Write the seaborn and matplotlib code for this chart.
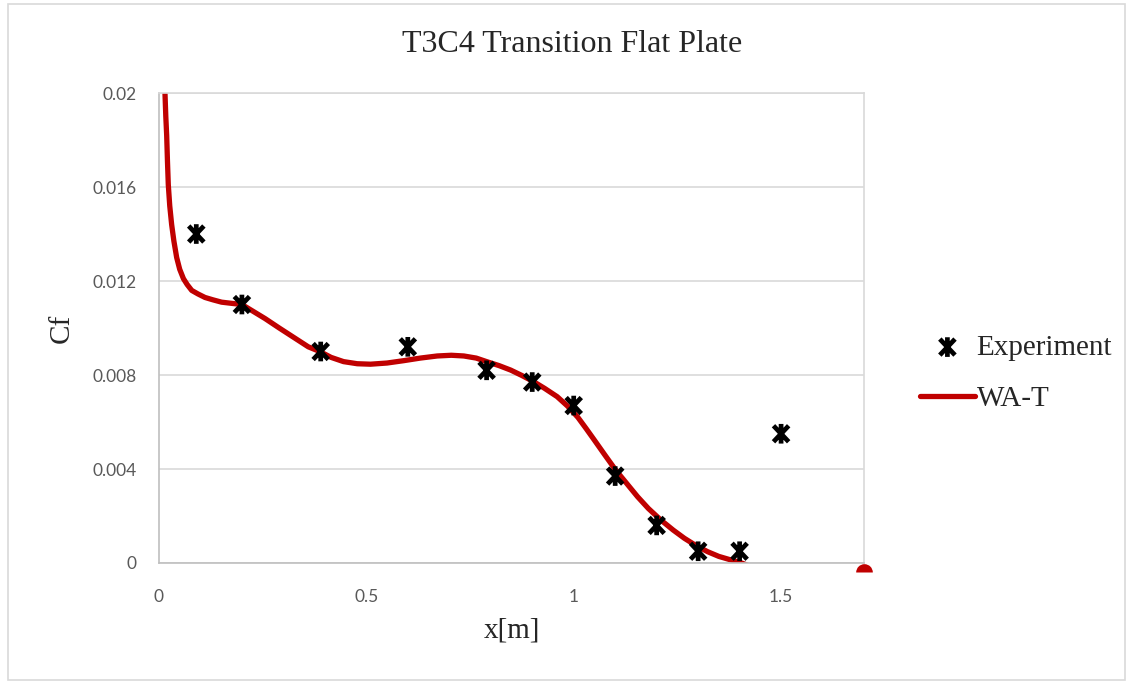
import numpy as np
import pandas as pd
import seaborn as sns
import matplotlib.pyplot as plt
from matplotlib.path import Path
from matplotlib.patches import Rectangle

# experiment points
exp_x = [0.09, 0.2, 0.39, 0.6, 0.79, 0.9, 1.0, 1.1, 1.2, 1.3, 1.4, 1.5]
exp_cf = [0.0140, 0.0110, 0.0090, 0.0092, 0.0082, 0.0077, 0.0067, 0.0037, 0.0016, 0.0005, 0.0005, 0.0055]

# WA-T model curve
wat_x = [0.013, 0.0145, 0.0165, 0.0186, 0.0205, 0.0225, 0.026, 0.0306, 0.036, 0.0427, 0.05, 0.059,
         0.068, 0.079, 0.094, 0.111, 0.13, 0.151, 0.175, 0.2, 0.228, 0.256, 0.29, 0.325, 0.36,
         0.389, 0.415, 0.445, 0.478, 0.51, 0.55, 0.59, 0.63, 0.671, 0.705, 0.735, 0.765, 0.79,
         0.82, 0.848, 0.875, 0.904, 0.93, 0.96, 0.985, 1.01, 1.03, 1.049, 1.075, 1.101, 1.128,
         1.154, 1.18, 1.21, 1.24, 1.267, 1.295, 1.323, 1.35, 1.379, 1.405, 1.428, 1.45]
wat_cf = [0.0215, 0.0200, 0.0190, 0.0182, 0.0171, 0.0161, 0.0152, 0.0144, 0.0137, 0.0130, 0.0125, 0.0121,
          0.01185, 0.0116, 0.01145, 0.0113, 0.0112, 0.0111, 0.01105, 0.0110, 0.0107, 0.0104, 0.0100, 0.0096, 0.0092,
          0.00899, 0.00875, 0.00857, 0.00848, 0.00846, 0.00851, 0.00861, 0.00872, 0.00881, 0.00884, 0.00881, 0.00872, 0.00857,
          0.0084, 0.00821, 0.00798, 0.00771, 0.00743, 0.00708, 0.00668, 0.0062, 0.00572, 0.00525, 0.0046, 0.00396, 0.00338,
          0.00282, 0.00232, 0.00183, 0.0014, 0.00105, 0.00074, 0.00048, 0.00028, 0.00013, 0.0, -0.00016, -0.0003]

exp = pd.DataFrame({'x': exp_x, 'Cf': exp_cf})
wat = pd.DataFrame({'x': wat_x, 'Cf': wat_cf})

sns.set_style('white')
plt.rcParams['font.family'] = ['Lato', 'DejaVu Sans']

fig = plt.figure(figsize=(11.33, 6.83), dpi=100)
ax = fig.add_axes([0.1403, 0.1757, 0.6223, 0.6881])

# star marker: X plus vertical bar
star = Path([(-0.85, -0.9), (0.85, 0.9), (-0.85, 0.9), (0.85, -0.9), (0, -1.1), (0, 1.1)],
            [Path.MOVETO, Path.LINETO, Path.MOVETO, Path.LINETO, Path.MOVETO, Path.LINETO])

sns.lineplot(data=wat, x='x', y='Cf', ax=ax, color='#C00000', linewidth=3.8,
             label='WA-T', sort=False)
sns.scatterplot(data=exp, x='x', y='Cf', ax=ax, marker=star, s=200, facecolors='none',
                edgecolor='black', linewidth=3.4, label='Experiment', zorder=5)
ax.plot([1.7], [-0.0004], 'o', fillstyle='top', markersize=12, markeredgewidth=0,
        color='#C00000', clip_on=False)

ax.set_xlim(0, 1.7)
ax.set_ylim(0, 0.02)
ax.set_xticks([0, 0.5, 1, 1.5])
ax.set_xticklabels(['0', '0.5', '1', '1.5'])
ax.set_yticks([0, 0.004, 0.008, 0.012, 0.016, 0.02])
ax.set_yticklabels(['0', '0.004', '0.008', '0.012', '0.016', '0.02'])
ax.tick_params(axis='both', length=0, labelsize=12.5, labelcolor='#595959')
ax.tick_params(axis='x', pad=19)
ax.tick_params(axis='y', pad=16)
ax.yaxis.grid(True, color='#D9D9D9', linewidth=1.2)
ax.xaxis.grid(False)
for side in ['top', 'right']:
    ax.spines[side].set_color('#D9D9D9')
for side in ['left', 'bottom']:
    ax.spines[side].set_color('#BFBFBF')
for sp in ax.spines.values():
    sp.set_linewidth(1.2)

serif = ['Liberation Serif', 'DejaVu Serif']
ax.set_xlabel('x[m]', family=serif, fontsize=21, labelpad=9)
ax.set_ylabel('Cf', family=serif, fontsize=21, labelpad=13)
fig.text(0.505, 0.935, 'T3C4 Transition Flat Plate', family=serif, fontsize=23,
         ha='center', va='center')

h, l = ax.get_legend_handles_labels()
order = [l.index('Experiment'), l.index('WA-T')]
ax.legend([h[i] for i in order], [l[i] for i in order], loc='center left',
          bbox_to_anchor=(1.05, 0.404), frameon=False, handlelength=1.9,
          handletextpad=0.05, labelspacing=0.85, borderaxespad=0.3,
          prop={'family': serif, 'size': 21})

fig.patches.append(Rectangle((0.007, 0.004), 0.986, 0.99, transform=fig.transFigure,
                             fill=False, edgecolor='#D9D9D9', linewidth=1.2))

fig.savefig('out.png', dpi=100)
